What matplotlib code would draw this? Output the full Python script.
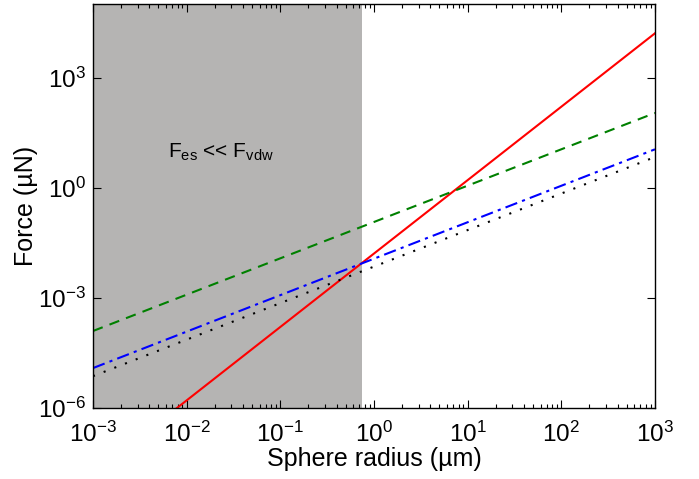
import numpy as np
import matplotlib
matplotlib.use('Agg')
import matplotlib.pyplot as plt
from matplotlib.ticker import LogLocator, NullLocator

plt.rcParams['font.family'] = ['Liberation Sans', 'DejaVu Sans']
plt.rcParams['mathtext.fontset'] = 'custom'
plt.rcParams['mathtext.rm'] = 'Liberation Sans'
plt.rcParams['mathtext.it'] = 'Liberation Sans'
plt.rcParams['mathtext.default'] = 'regular'

# radius range (um) and force at both ends (uN)
radius = [1e-3, 1e3]
force_red = [10 ** -7.79, 10 ** 4.21]     # solid, slope 2
force_green = [10 ** -3.90, 10 ** 2.04]   # dashed
force_blue = [10 ** -4.91, 10 ** 1.05]    # dash-dot
force_black = [10 ** -5.13, 10 ** 0.84]   # dotted

gray_limit = 0.74   # shaded region where F_es << F_vdw
note_text = r'F$_{\mathrm{es}}$ << F$_{\mathrm{vdw}}$'

fig = plt.figure(figsize=(6.99, 4.79), dpi=100)
ax = fig.add_axes([0.133, 0.148, 0.804, 0.843])

ax.axvspan(radius[0], gray_limit, color='#b5b4b3', lw=0, zorder=0)

ax.loglog(radius, force_red, '-', color='#ff0000', lw=1.5)
ax.loglog(radius, force_green, '--', color='#008000', lw=1.5, dashes=(5, 3.5))
ax.loglog(radius, force_blue, '-.', color='#0000ff', lw=1.5, dashes=(6, 2.5, 1.5, 2.5))
ax.loglog(radius, force_black, ':', color='black', lw=1.5, dashes=(1, 4.5))

ax.text(10 ** -2.2, 9.0, note_text, fontsize=15, va='center', ha='left')

ax.set_xlim(1e-3, 1e3)
ax.set_ylim(1e-6, 1e5)
ax.set_xticks([1e-3, 1e-2, 1e-1, 1e0, 1e1, 1e2, 1e3])
ax.xaxis.set_minor_locator(LogLocator(base=10, subs=np.arange(2, 10), numticks=20))
ax.set_yticks([1e-6, 1e-3, 1e0, 1e3])
ax.yaxis.set_minor_locator(NullLocator())

ax.tick_params(which='both', direction='in', top=True, right=True, labelsize=17.5, width=0.8)
ax.tick_params(which='major', length=6, pad=5)
ax.tick_params(axis='x', which='major', pad=10)
ax.tick_params(which='minor', length=3)
for s in ax.spines.values():
    s.set_linewidth(1.0)

ax.set_xlabel('Sphere radius (µm)', fontsize=18, labelpad=0)
ax.set_ylabel('Force (µN)', fontsize=18, labelpad=0)

fig.savefig('out.png', dpi=100)
